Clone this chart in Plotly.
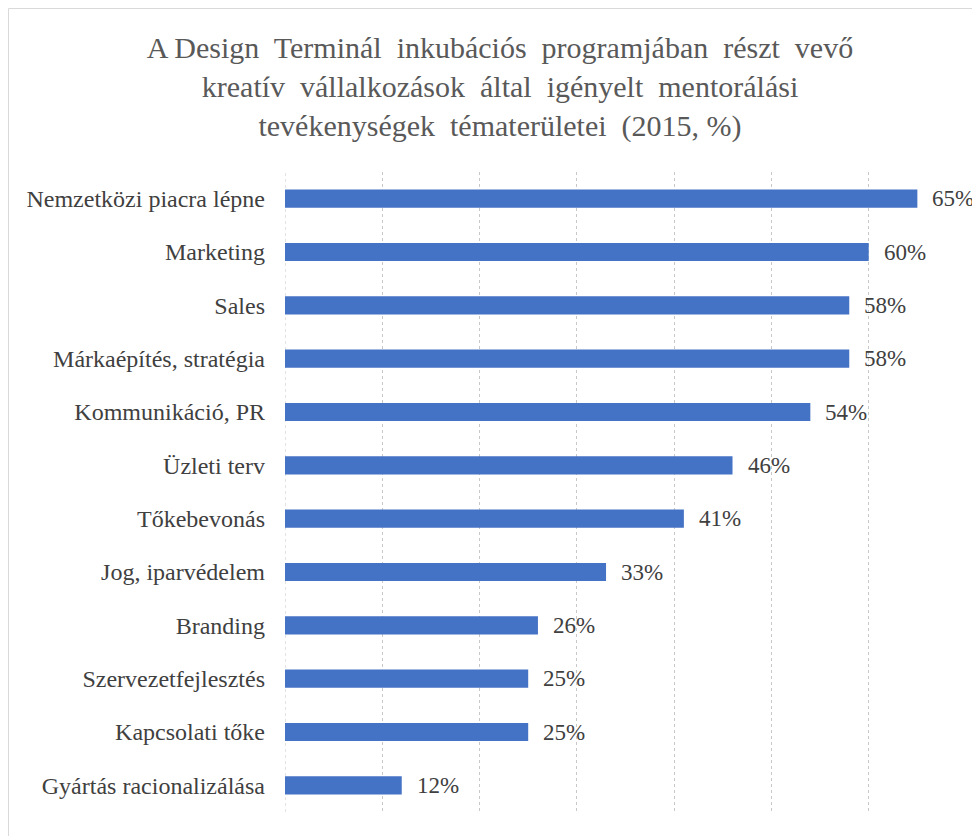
import plotly.graph_objects as go

categories = [
    "Nemzetközi piacra lépne",
    "Marketing",
    "Sales",
    "Márkaépítés, stratégia",
    "Kommunikáció, PR",
    "Üzleti terv",
    "Tőkebevonás",
    "Jog, iparvédelem",
    "Branding",
    "Szervezetfejlesztés",
    "Kapcsolati tőke",
    "Gyártás racionalizálása",
]
values = [65, 60, 58, 58, 54, 46, 41, 33, 26, 25, 25, 12]
value_labels = [f"{v}%" for v in values]
title_text = ("A Design  Terminál  inkubációs  programjában  részt  vevő<br>"
              "kreatív  vállalkozások  által  igényelt  mentorálási<br>"
              "tevékenységek  tématerületei  (2015, %)")

# page body has an 8px margin, so the figure is drawn at (8, 8)
W, H = 972, 828
L, R, T, B = 277, 14, 164, 24
pw, ph = W - L - R, H - T - B

fig = go.Figure()
fig.add_trace(go.Bar(
    x=values, y=categories, orientation="h",
    marker=dict(color="#4472C4", line=dict(width=0)),
    width=0.34,
    hoverinfo="skip",
))

for c, v, t in zip(categories, values, value_labels):
    fig.add_annotation(x=v, y=c, text=t, showarrow=False, xanchor="left",
                       xshift=13, font=dict(family="Liberation Serif", size=23, color="#404040"))

# gridline at the axis origin (dotted, like the other gridlines)
fig.add_shape(type="line", xref="x", yref="paper", x0=0, x1=0, y0=0, y1=1,
              line=dict(color="#c8c8c8", width=1, dash="dot"), layer="below")

# outer chart border
fig.add_shape(type="rect", xref="paper", yref="paper",
              x0=(0.5 - L) / pw, x1=(W + 10 - L) / pw,
              y0=-(B + 10) / ph, y1=1 + (T - 0.5) / ph,
              line=dict(color="#d9d9d9", width=1), fillcolor="rgba(0,0,0,0)", layer="below")

fig.update_layout(
    width=W, height=H,
    margin=dict(l=L, r=R, t=T, b=B, pad=0),
    paper_bgcolor="white", plot_bgcolor="white",
    showlegend=False,
    title=dict(text=title_text, x=(500 - 8) / W, xanchor="center", y=1 - 50 / H, yanchor="top",
               font=dict(family="Liberation Serif", size=30, color="#595959")),
    xaxis=dict(range=[0, 70], dtick=10, showgrid=True, gridcolor="#c8c8c8", griddash="dot",
               gridwidth=1, showticklabels=False, zeroline=False, showline=False, ticks=""),
    yaxis=dict(autorange="reversed", showgrid=False, zeroline=False, showline=False,
               ticks="", ticklabelstandoff=19,
               tickfont=dict(family="Liberation Serif", size=24, color="#404040")),
    font=dict(family="Liberation Serif"),
)

fig.write_html("out.html")
